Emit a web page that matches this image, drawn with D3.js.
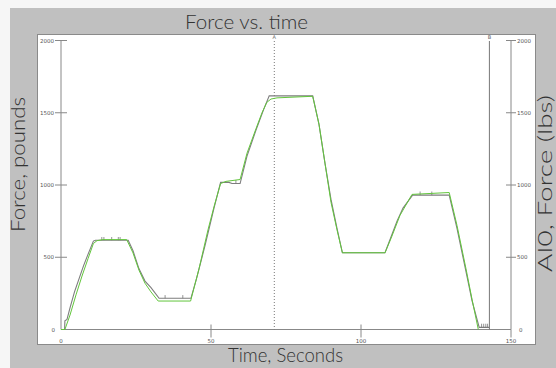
<!DOCTYPE html>
<html>
<head>
<meta charset="utf-8">
<script src="https://cdn.jsdelivr.net/npm/d3@7"></script>
<style>
  html, body { margin: 0; padding: 0; background: #f6f6f6; }
  svg { display: block; }
</style>
</head>
<body>
<svg id="viz" width="556" height="368"></svg>
<script>
// measured force (gray, stepped transducer) - time s, force lbs
const grayTime  = [0, 1.2, 1.3, 2.0, 3, 4.5, 6, 7.5, 9, 10.8, 11.5, 22.4, 24, 26, 28, 30, 32.7, 43.3, 45.2, 48, 51, 53.2, 56, 57, 59.7, 62, 65, 67.5, 69.4, 83.9, 86, 88, 90, 92, 93.8, 108, 110, 112, 114, 117.2, 129.4, 132, 135, 137, 139.4, 142.7];
const grayForce = [0, 0, 60, 70, 150, 260, 350, 440, 520, 612, 618, 618, 545, 420, 335, 290, 216, 216, 354, 580, 840, 1018, 1018, 1010, 1010, 1200, 1380, 1520, 1617, 1617, 1420, 1150, 900, 700, 531, 531, 640, 750, 840, 930, 930, 700, 400, 200, 15, 15];

// small spikes on the gray trace: time, base force, top force
const spikeTime = [13.6, 14.3, 16.9, 19.1, 19.7, 34.7, 40.6, 58.3, 119.7, 123.6, 140.2, 140.9, 141.6, 142.2];
const spikeBase = [618, 618, 618, 618, 618, 216, 216, 1010, 930, 930, 15, 15, 15, 15];
const spikeTop  = [640, 640, 640, 640, 640, 238, 238, 1035, 955, 955, 40, 40, 40, 40];

// AI0 channel (green)
const greenTime  = [0, 1.3, 3, 5, 7, 9, 10.8, 12, 14, 21.9, 24, 26, 28, 30, 32.4, 43.2, 46, 49, 51, 53.2, 55, 59.7, 62, 65, 67, 68.6, 70, 72, 83.9, 86, 88, 90, 92, 93.8, 108, 110, 113, 117, 129.4, 132, 135, 137, 139.1];
const greenForce = [0, 0, 100, 240, 370, 490, 595, 615, 622, 622, 530, 410, 320, 260, 197, 197, 420, 690, 850, 1010, 1025, 1038, 1220, 1390, 1500, 1572, 1595, 1603, 1614, 1420, 1150, 880, 690, 531, 531, 630, 790, 935, 948, 720, 420, 210, 0];

const yTicks = [0, 500, 1000, 1500, 2000];
const xTicks = [0, 50, 100, 150];
const cursors = [{name: "A", t: 71.1, dash: "1,2"}, {name: "B", t: 142.8, dash: null}];

const svg = d3.select("#viz");
const font = "Lato, 'Open Sans', sans-serif";

// gray panel and white plot frame
svg.append("rect").attr("x", 10).attr("y", 8).attr("width", 546).attr("height", 360).attr("fill", "#c0c0c0");
svg.append("rect").attr("x", 37.5).attr("y", 34.5).attr("width", 498).attr("height", 310)
    .attr("fill", "#fff").attr("stroke", "#8a8a8a");

const x = d3.scaleLinear().domain([0, 150]).range([61, 511]);
const y = d3.scaleLinear().domain([0, 2000]).range([329.5, 40.5]);

const axisColor = "#888";
const g = svg.append("g");

// x axis
g.append("line").attr("x1", x(0)).attr("x2", x(150)).attr("y1", y(0)).attr("y2", y(0)).attr("stroke", axisColor);
xTicks.forEach(t => {
    if (t > 0) {
        g.append("line").attr("x1", x(t)).attr("x2", x(t))
            .attr("y1", t === 150 ? y(0) : y(0) - 5).attr("y2", y(0) + 8).attr("stroke", axisColor);
    }
    g.append("text").attr("x", x(t)).attr("y", 343).attr("text-anchor", "middle")
        .attr("font-family", "DejaVu Sans, sans-serif").attr("font-size", 5.5).attr("fill", "#555").text(t);
});

// left axis
g.append("line").attr("x1", x(0)).attr("x2", x(0)).attr("y1", y(2000)).attr("y2", y(0)).attr("stroke", axisColor);
yTicks.forEach(v => {
    if (v > 0) {
        g.append("line").attr("x1", x(0) - 6).attr("x2", x(0) + 6).attr("y1", y(v)).attr("y2", y(v)).attr("stroke", axisColor);
    }
    g.append("text").attr("x", v === 0 ? 55 : 54).attr("y", y(v) + 2).attr("text-anchor", "end")
        .attr("font-family", "DejaVu Sans, sans-serif").attr("font-size", 5.5).attr("fill", "#555").text(v);
});

// right axis
g.append("line").attr("x1", x(150)).attr("x2", x(150)).attr("y1", y(2000)).attr("y2", y(0)).attr("stroke", axisColor);
yTicks.forEach(v => {
    if (v > 0) {
        g.append("line").attr("x1", x(150) - 5).attr("x2", x(150) + 5).attr("y1", y(v)).attr("y2", y(v)).attr("stroke", axisColor);
    }
    g.append("text").attr("x", v === 0 ? 519 : 517).attr("y", y(v) + 2).attr("text-anchor", "start")
        .attr("font-family", "DejaVu Sans, sans-serif").attr("font-size", 5.5).attr("fill", "#555").text(v);
});

// cursors
cursors.forEach(c => {
    g.append("line").attr("x1", x(c.t)).attr("x2", x(c.t)).attr("y1", 41).attr("y2", y(0))
        .attr("stroke", "#777").attr("stroke-dasharray", c.dash);
    g.append("text").attr("x", x(c.t)).attr("y", 39).attr("text-anchor", "middle")
        .attr("font-family", "DejaVu Sans, sans-serif").attr("font-size", 5).attr("fill", "#666").text(c.name);
});

const line = d3.line().x(d => x(d[0])).y(d => y(d[1]));

const grayData = grayTime.map((t, i) => [t, grayForce[i]]);
const greenData = greenTime.map((t, i) => [t, greenForce[i]]);

g.append("path").datum(grayData).attr("d", line).attr("fill", "none").attr("stroke", "#7d7d7d").attr("stroke-width", 1.1);
spikeTime.forEach((t, i) => {
    g.append("line").attr("x1", x(t)).attr("x2", x(t)).attr("y1", y(spikeBase[i])).attr("y2", y(spikeTop[i]))
        .attr("stroke", "#777").attr("stroke-width", 0.8);
});
g.append("path").datum(greenData).attr("d", line).attr("fill", "none").attr("stroke", "#62c63c").attr("stroke-width", 1);

// titles
function label(txt, tx, ty, rot, len) {
    svg.append("text").attr("transform", `translate(${tx},${ty}) rotate(${rot})`).attr("text-anchor", "middle")
        .attr("font-family", font).attr("font-weight", 300).attr("font-size", 19.5).attr("fill", "#333")
        .attr("textLength", len).attr("lengthAdjust", "spacingAndGlyphs").text(txt);
}
label("Force vs. time", 246.5, 29, 0, 123);
label("Time, Seconds", 285.5, 362, 0, 115);
label("Force, pounds", 25, 164.5, -90, 135);
label("AI0, Force (lbs)", 552, 183.5, -90, 177);
</script>
</body>
</html>
